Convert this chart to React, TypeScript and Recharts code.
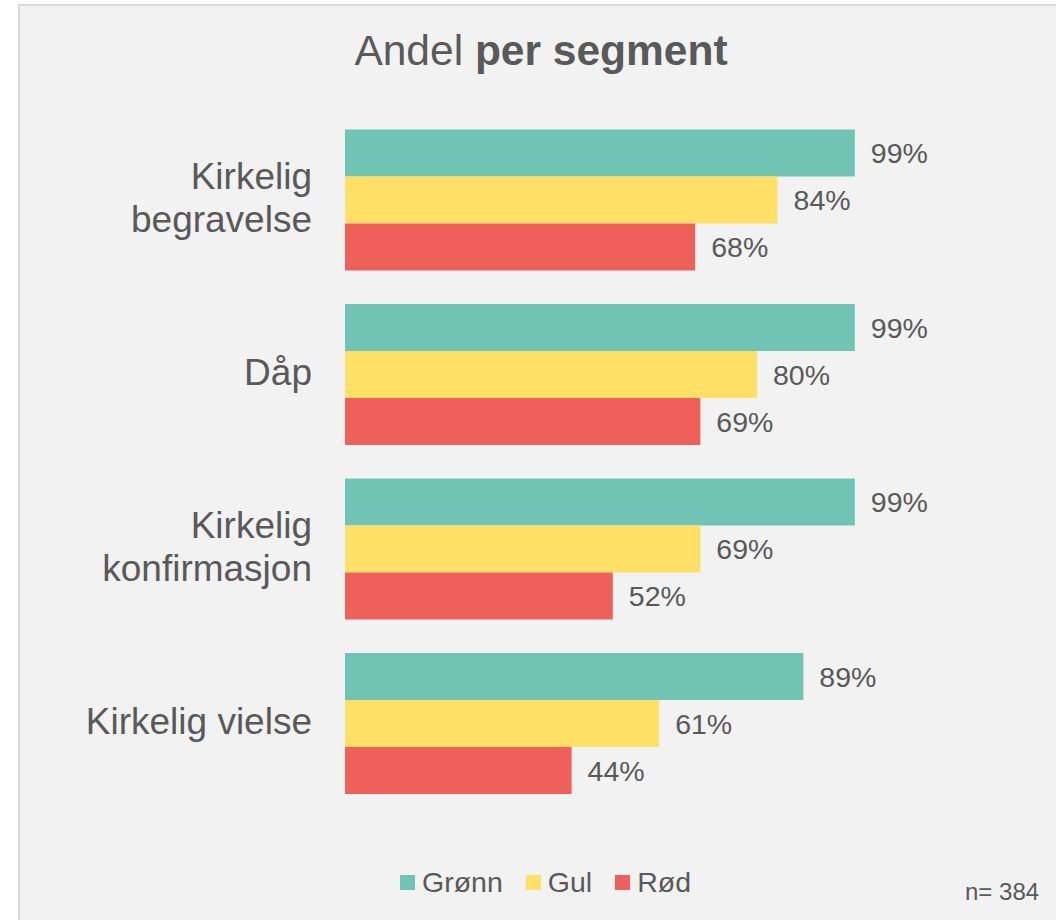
import React from 'react';
import { BarChart, Bar, XAxis, YAxis, Legend, LabelList } from 'recharts';

const categories = ['Kirkelig\nbegravelse', 'Dåp', 'Kirkelig\nkonfirmasjon', 'Kirkelig vielse'];
const gronnValues = [99, 99, 99, 89];
const gulValues = [84, 80, 69, 61];
const rodValues = [68, 69, 52, 44];
const seriesNames = ['Grønn', 'Gul', 'Rød'];
const seriesColors = ['#71C3B3', '#FFE066', '#F0605A'];
const titleRegular = 'Andel ';
const titleBold = 'per segment';
const footnote = 'n= 384';

const data = categories.map((c, i) => ({
  name: c,
  gronn: gronnValues[i],
  gul: gulValues[i],
  rod: rodValues[i],
}));

const FONT = '"Liberation Sans", Arial, Helvetica, sans-serif';
const TEXT = '#595959';

const CategoryTick = (props: any) => {
  const { x, y, payload } = props;
  const lines = String(payload.value).split('\n');
  const lh = 42.5;
  const start = y + 11 - ((lines.length - 1) * lh) / 2;
  return (
    <text x={x} textAnchor="end" fill={TEXT} fontSize={37} fontFamily={FONT}>
      {lines.map((l, i) => (
        <tspan key={i} x={x} y={start + i * lh}>
          {l}
        </tspan>
      ))}
    </text>
  );
};

const LegendContent = () => (
  <div style={{ display: 'flex', alignItems: 'center', height: 31, fontFamily: FONT, fontSize: 28.5, color: TEXT, lineHeight: '31px', whiteSpace: 'nowrap' }}>
    {seriesNames.map((n, i) => (
      <div key={n} style={{ display: 'flex', alignItems: 'center', marginRight: 23 }}>
        <div style={{ width: 15, height: 15, background: seriesColors[i], marginRight: 7 }} />
        <span>{n}</span>
      </div>
    ))}
  </div>
);

const fmt = (v: any) => `${v}%`;

export default function App() {
  return (
    <div
      style={{
        position: 'absolute',
        left: 18,
        top: 4,
        width: 1038,
        height: 916,
        boxSizing: 'border-box',
        background: '#F2F2F2',
        borderLeft: '2px solid #D9D9D9',
        borderTop: '2px solid #D9D9D9',
        overflow: 'hidden',
      }}
    >
      <div style={{ position: 'absolute', left: 0, top: 0 }}>
        <BarChart
          width={1036}
          height={914}
          data={data}
          layout="vertical"
          margin={{ top: 106, right: 196, bottom: 110, left: 0 }}
          barCategoryGap="10%"
          barGap={0}
        >
          <XAxis type="number" domain={[0, 100]} hide />
          <YAxis
            type="category"
            dataKey="name"
            width={325}
            axisLine={false}
            tickLine={false}
            tickSize={0}
            tickMargin={33}
            tick={<CategoryTick />}
            interval={0}
          />
          <Legend
            verticalAlign="middle"
            align="center"
            content={<LegendContent />}
            wrapperStyle={{ left: 380, top: 861, width: 'auto', height: 31 }}
          />
          <Bar dataKey="gronn" name={seriesNames[0]} fill={seriesColors[0]} isAnimationActive={false}>
            <LabelList dataKey="gronn" position="right" offset={16} formatter={fmt} fill={TEXT} fontSize={28.5} fontFamily={FONT} />
          </Bar>
          <Bar dataKey="gul" name={seriesNames[1]} fill={seriesColors[1]} isAnimationActive={false}>
            <LabelList dataKey="gul" position="right" offset={16} formatter={fmt} fill={TEXT} fontSize={28.5} fontFamily={FONT} />
          </Bar>
          <Bar dataKey="rod" name={seriesNames[2]} fill={seriesColors[2]} isAnimationActive={false}>
            <LabelList dataKey="rod" position="right" offset={16} formatter={fmt} fill={TEXT} fontSize={28.5} fontFamily={FONT} />
          </Bar>
        </BarChart>
      </div>
      <svg width={1036} height={914} style={{ position: 'absolute', left: 0, top: 0, pointerEvents: 'none' }}>
        <text x={521} y={59} textAnchor="middle" fill={TEXT} fontSize={42.5} fontFamily={FONT}>
          <tspan>{titleRegular}</tspan>
          <tspan fontWeight="bold">{titleBold}</tspan>
        </text>
        <text x={945} y={894} fill={TEXT} fontSize={24} fontFamily={FONT}>
          {footnote}
        </text>
      </svg>
    </div>
  );
}
